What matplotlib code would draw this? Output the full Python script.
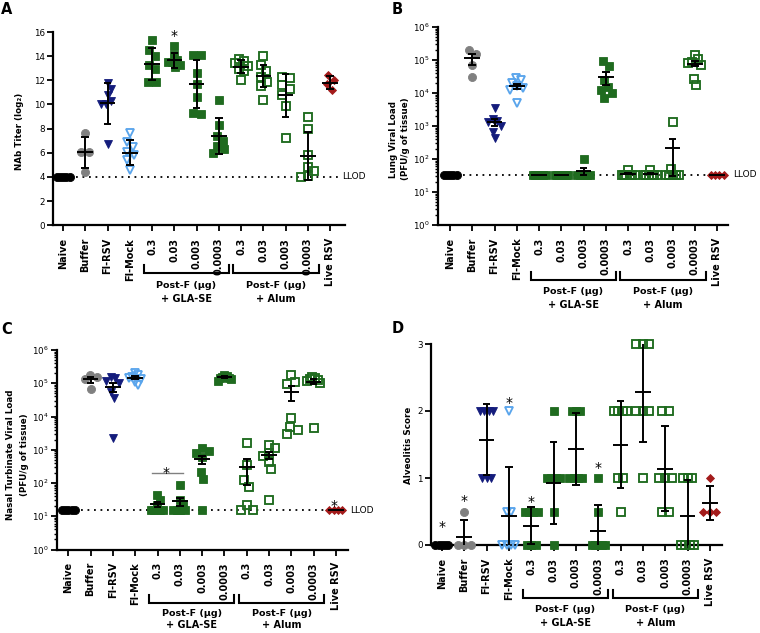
import numpy as np
import matplotlib
matplotlib.use('Agg')
import matplotlib.pyplot as plt
from matplotlib import transforms
from matplotlib.ticker import LogLocator, NullFormatter, MultipleLocator

# ---------------- data ----------------
categories = ['Naive', 'Buffer', 'FI-RSV', 'FI-Mock', '0.3', '0.03', '0.003', '0.0003',
              '0.3', '0.03', '0.003', '0.0003', 'Live RSV']

# Panel A: NAb titer (log2)
nab_values = [
    [4, 4, 4, 4, 4],
    [7.6, 6.1, 6.1, 4.4],
    [11.8, 11.3, 10.8, 10.3, 10.0, 10.0, 6.7],
    [7.6, 6.9, 6.5, 6.1, 5.8, 5.4, 4.6],
    [15.3, 14.5, 14.0, 13.3, 12.9, 11.9, 11.9],
    [14.8, 14.1, 13.7, 13.5, 13.5, 13.3, 13.1],
    [14.1, 14.1, 12.6, 11.7, 10.6, 9.3, 9.2],
    [10.4, 8.3, 7.4, 7.0, 6.6, 6.3, 6.0],
    [13.8, 13.6, 13.4, 13.2, 12.9, 12.8, 12.0],
    [14.0, 13.3, 12.8, 12.3, 11.9, 11.5, 10.4],
    [12.3, 12.2, 11.6, 11.3, 10.8, 9.9, 7.2],
    [9.0, 8.0, 5.8, 4.8, 4.5, 4.1, 4.0],
    [12.4, 12.0, 11.7, 11.2],
]
nab_mean = [4, 6.05, 10.1, 6.0, 13.35, 13.67, 11.67, 7.4, 13.13, 12.33, 10.75, 5.74, 11.8]
nab_err = [0, 1.3, 1.7, 1.05, 1.35, 0.62, 2.0, 1.47, 0.55, 0.9, 1.77, 1.97, 0.52]

# Panel B: lung viral load (PFU/g)
lung_values = [
    [33, 33, 33, 33, 33],
    [2.0e5, 1.55e5, 7e4, 3e4],
    [3.6e3, 1.6e3, 1.4e3, 1.3e3, 1.0e3, 6.8e2, 4.2e2],
    [2.8e4, 2.4e4, 2.0e4, 1.6e4, 1.4e4, 1.2e4, 5e3],
    [33, 33, 33, 33, 33, 33, 33],
    [33, 33, 33, 33, 33, 33, 33],
    [100, 33, 33, 33, 33, 33, 33],
    [9.2e4, 6.6e4, 2.4e4, 1.5e4, 1.2e4, 1.0e4, 7e3],
    [48, 33, 33, 33, 33, 33, 33],
    [48, 33, 33, 33, 33, 33, 33],
    [1300, 50, 33, 33, 33, 33, 33],
    [1.45e5, 1.05e5, 9e4, 8e4, 7e4, 2.7e4, 1.7e4],
    [33, 33, 33, 33],
]
lung_mean = [33, 1.12e5, 1.3e3, 1.6e4, 33, 33, 42, 3.1e4, 36, 36, 215, 7.8e4, 33]
lung_err = [0, 4e4, 3e2, 3e3, 0, 0, 10, 1.3e4, 2, 2, 185, 1.3e4, 0]

# Panel C: nasal turbinate viral load (PFU/g)
nasal_values = [
    [15, 15, 15, 15, 15],
    [1.8e5, 1.5e5, 1.3e5, 6.5e4],
    [1.5e5, 1.4e5, 1.2e5, 1.05e5, 5.5e4, 3.6e4, 2.3e3],
    [2.1e5, 1.8e5, 1.5e5, 1.4e5, 1.3e5, 1.1e5, 9e4],
    [44, 30, 22, 15, 15, 15, 15],
    [88, 30, 24, 15, 15, 15, 15],
    [1100, 900, 800, 600, 220, 130, 15],
    [1.8e5, 1.6e5, 1.5e5, 1.45e5, 1.4e5, 1.3e5, 1.2e5],
    [1600, 350, 120, 75, 22, 15, 15],
    [1400, 1100, 780, 650, 440, 260, 30],
    [1.8e5, 1.1e5, 9.5e4, 9e3, 5e3, 4e3, 3e3],
    [1.5e5, 1.4e5, 1.3e5, 1.25e5, 1.15e5, 1.0e5, 4.5e3],
    [15, 15, 15, 15],
]
nasal_mean = [15, 1.3e5, 7.8e4, 1.45e5, 23, 28, 515, 1.5e5, 310, 680, 5.5e4, 1.12e5, 15]
nasal_err = [0, 2.5e4, 2.2e4, 1.5e4, 4, 8, 150, 1e4, 220, 170, 2.5e4, 1.8e4, 0]

# Panel D: alveolitis score
alv_values = [
    [0, 0, 0, 0, 0],
    [0.5, 0, 0, 0],
    [2, 2, 2, 2, 1, 1, 1],
    [2, 0.5, 0.5, 0, 0, 0, 0],
    [0.5, 0.5, 0.5, 0.5, 0, 0, 0],
    [2, 1, 1, 1, 1, 0.5, 0],
    [2, 2, 2, 1, 1, 1, 1],
    [1, 0.5, 0, 0, 0, 0, 0],
    [2, 2, 2, 2, 1, 1, 0.5],
    [3, 3, 3, 2, 2, 2, 1],
    [2, 2, 1, 1, 1, 0.5, 0.5],
    [1, 1, 1, 0, 0, 0, 0],
    [1, 0.5, 0.5, 0.5],
]
alv_mean = [0, 0.125, 1.57, 0.43, 0.29, 0.93, 1.43, 0.21, 1.5, 2.28, 1.14, 0.43, 0.63]
alv_err = [0, 0.25, 0.53, 0.73, 0.27, 0.61, 0.535, 0.39, 0.645, 0.75, 0.63, 0.54, 0.25]

llod_nab = 4
llod_lung = 33
llod_nasal = 15

# significance marks: (category index, y)
stars_A = [(5, 16.0)]
stars_C = [(4.38, 277), (11.9, 27.5)]
stars_D = [(0, 0.33), (1, 0.72), (3, 2.19), (4, 0.70), (7, 1.22)]

# ---------------- styles ----------------
GREEN = '#1f6b1f'
styles = [
    dict(marker='o', color='black', filled=True, ms=5.8),
    dict(marker='o', color='#808080', filled=True, ms=5.8),
    dict(marker='v', color='#141c7c', filled=True, ms=6.2),
    dict(marker='v', color='#5aa5ec', filled=False, ms=6.2),
] + [dict(marker='s', color=GREEN, filled=True, ms=5.7)] * 4 \
  + [dict(marker='s', color=GREEN, filled=False, ms=5.7)] * 4 \
  + [dict(marker='D', color='#a31b1b', filled=True, ms=4.3)]

plt.rcParams['font.family'] = ['DejaVu Sans']

fig = plt.figure(figsize=(7.6, 6.33), dpi=100)

W, H = 760.0, 633.0


def rect(l, r, t, b):
    return [l / W, 1 - b / H, (r - l) / W, (b - t) / H]


axA = fig.add_axes(rect(53, 345, 32, 225.3))
axB = fig.add_axes(rect(438, 728, 27, 225))
axC = fig.add_axes(rect(56.7, 348, 350, 549.5))
axD = fig.add_axes(rect(431, 722, 344, 545))


def swarm(ax, xi, vals, d=8.0, limit=6.5):
    vals = np.asarray(vals, float)
    n = len(vals)
    pts = ax.transData.transform(np.column_stack([np.full(n, float(xi)), vals]))
    ys = pts[:, 1]
    order = np.argsort(-ys, kind='stable')
    offs = np.zeros(n)
    placed = []
    cands = [0.0]
    for k in range(1, 200):
        cands += [k * 0.5, -k * 0.5]
    for i in order:
        chosen = 0.0
        for o in cands:
            ok = True
            for j in placed:
                if (o - offs[j]) ** 2 + (ys[i] - ys[j]) ** 2 < d * d - 1e-6:
                    ok = False
                    break
            if ok:
                chosen = o
                break
        offs[i] = chosen
        placed.append(i)
    idx = np.argsort(ys, kind='stable')
    comps = []
    cur = [idx[0]]
    for a, b in zip(idx[:-1], idx[1:]):
        if ys[b] - ys[a] < d:
            cur.append(b)
        else:
            comps.append(cur)
            cur = [b]
    comps.append(cur)
    for c in comps:
        c = np.array(c)
        offs[c] -= offs[c].mean()
    m = np.abs(offs).max()
    if m > limit:
        offs *= limit / m
    ppu = ax.transData.transform([(1, 1)])[0, 0] - ax.transData.transform([(0, 1)])[0, 0]
    return offs / ppu


def style_axes(ax, xlim):
    ax.set_xlim(*xlim)
    for s in ['top', 'right']:
        ax.spines[s].set_visible(False)
    for s in ['left', 'bottom']:
        ax.spines[s].set_linewidth(1.6)
    ax.set_xticks(range(len(categories)))
    ax.set_xticklabels(categories, rotation=90, fontsize=7, fontweight='bold')
    ax.tick_params(axis='x', length=4.5, width=1.3, pad=4.5)
    ax.tick_params(axis='y', which='major', length=4, width=1.3, labelsize=6.3, pad=2)
    ax.tick_params(axis='y', which='minor', length=2.5, width=1.0)


def draw_groups(ax, values, means, errs, logy=False):
    for i, vals in enumerate(values):
        st = styles[i]
        offs = swarm(ax, i, vals)
        xs = i + offs
        if st['filled']:
            ax.plot(xs, vals, ls='none', marker=st['marker'], ms=st['ms'],
                    mfc=st['color'], mec=st['color'], mew=0.6, clip_on=False, zorder=3)
        else:
            ax.plot(xs, vals, ls='none', marker=st['marker'], ms=st['ms'] - 0.6,
                    mfc='none', mec=st['color'], mew=1.35, clip_on=False, zorder=3)
        m, e = means[i], errs[i]
        kw = dict(color='black', lw=1.4, zorder=5, solid_capstyle='butt')
        if e > 0:
            lo = m - e
            if logy:
                lo = max(lo, 1.05)
            ax.plot([i, i], [lo, m + e], **kw)
            ax.plot([i - 0.17, i + 0.17], [m + e, m + e], **kw)
            ax.plot([i - 0.17, i + 0.17], [lo, lo], **kw)
        ax.plot([i - 0.35, i + 0.35], [m, m], **kw)


def llod(ax, y, x_end, x_text):
    ax.plot([0, x_end], [y, y], color='black', lw=1.3, ls=(0, (1, 2.6)), zorder=1, clip_on=False)
    ax.text(x_text, y, 'LLOD', fontsize=6.5, ha='left', va='center', clip_on=False)


def brackets(ax, off, t1=12, t2=25.5):
    h = ax.bbox.height
    tr = transforms.blended_transform_factory(ax.transData, ax.transAxes)
    for (x0, x1, lab) in [(3.62, 7.45, '+ GLA-SE'), (7.65, 11.48, '+ Alum')]:
        ya = -(off - 8) / h
        yl = -off / h
        ax.plot([x0, x0, x1, x1], [ya, yl, yl, ya], transform=tr, color='black',
                lw=1.5, clip_on=False, solid_joinstyle='miter')
        xm = (x0 + x1) / 2
        ax.text(xm, -(off + t1) / h, 'Post-F (μg)', transform=tr, ha='center', va='center',
                fontsize=6.8, fontweight='bold')
        ax.text(xm, -(off + t2) / h, lab, transform=tr, ha='center', va='center',
                fontsize=7, fontweight='bold')


def stars(ax, pts):
    for x, y in pts:
        ax.annotate('*', (x, y), xytext=(0, -6), textcoords='offset points',
                    ha='center', va='baseline', fontsize=10, annotation_clip=False)


# ---- Panel A ----
style_axes(axA, (-0.45, 12.67))
axA.set_ylim(0, 16)
axA.yaxis.set_major_locator(MultipleLocator(2))
llod(axA, llod_nab, 12.36, 12.55)
draw_groups(axA, nab_values, nab_mean, nab_err)
stars(axA, stars_A)
brackets(axA, 48)

# ---- Panel B ----
style_axes(axB, (-0.54, 12.49))
axB.set_yscale('log')
axB.set_ylim(1, 1e6)
axB.yaxis.set_major_locator(LogLocator(base=10, numticks=10))
axB.yaxis.set_minor_locator(LogLocator(base=10, subs=np.arange(2, 10), numticks=20))
axB.yaxis.set_minor_formatter(NullFormatter())
llod(axB, llod_lung, 12.45, 12.72)
draw_groups(axB, lung_values, lung_mean, lung_err, logy=True)
brackets(axB, 55)

# ---- Panel C ----
style_axes(axC, (-0.52, 12.54))
axC.set_yscale('log')
axC.set_ylim(1, 1e6)
axC.yaxis.set_major_locator(LogLocator(base=10, numticks=10))
axC.yaxis.set_minor_locator(LogLocator(base=10, subs=np.arange(2, 10), numticks=20))
axC.yaxis.set_minor_formatter(NullFormatter())
llod(axC, llod_nasal, 12.5, 12.63)
draw_groups(axC, nasal_values, nasal_mean, nasal_err, logy=True)
axC.plot([3.74, 5.16], [196, 196], color='#808080', lw=1.0, clip_on=False)
stars(axC, stars_C)
brackets(axC, 53, t1=11.5, t2=23)

# ---- Panel D ----
style_axes(axD, (-0.49, 12.54))
axD.set_ylim(0, 3)
axD.yaxis.set_major_locator(MultipleLocator(1))
draw_groups(axD, alv_values, alv_mean, alv_err)
stars(axD, stars_D)
brackets(axD, 53)

# ---- y labels ----
def ylab(x, yc, s, size=6.3):
    fig.text(x / W, 1 - yc / H, s, rotation=90, ha='center', va='center',
             fontsize=size, fontweight='bold')

ylab(20, 131, 'NAb Titer (log₂)')
ylab(393, 139, 'Lung Viral Load')
ylab(405, 139, '(PFU/g of tissue)')
ylab(11, 455, 'Nasal Turbinate Viral Load')
ylab(25, 455, '(PFU/g of tissue)')
ylab(409, 445, 'Alveolitis Score')

# ---- panel letters ----
for x, y, s in [(1, 2, 'A'), (392, 2, 'B'), (1, 322, 'C'), (392, 321, 'D')]:
    fig.text(x / W, 1 - y / H, s, ha='left', va='top', fontsize=10.5, fontweight='bold')

fig.savefig('out.png', dpi=100)
